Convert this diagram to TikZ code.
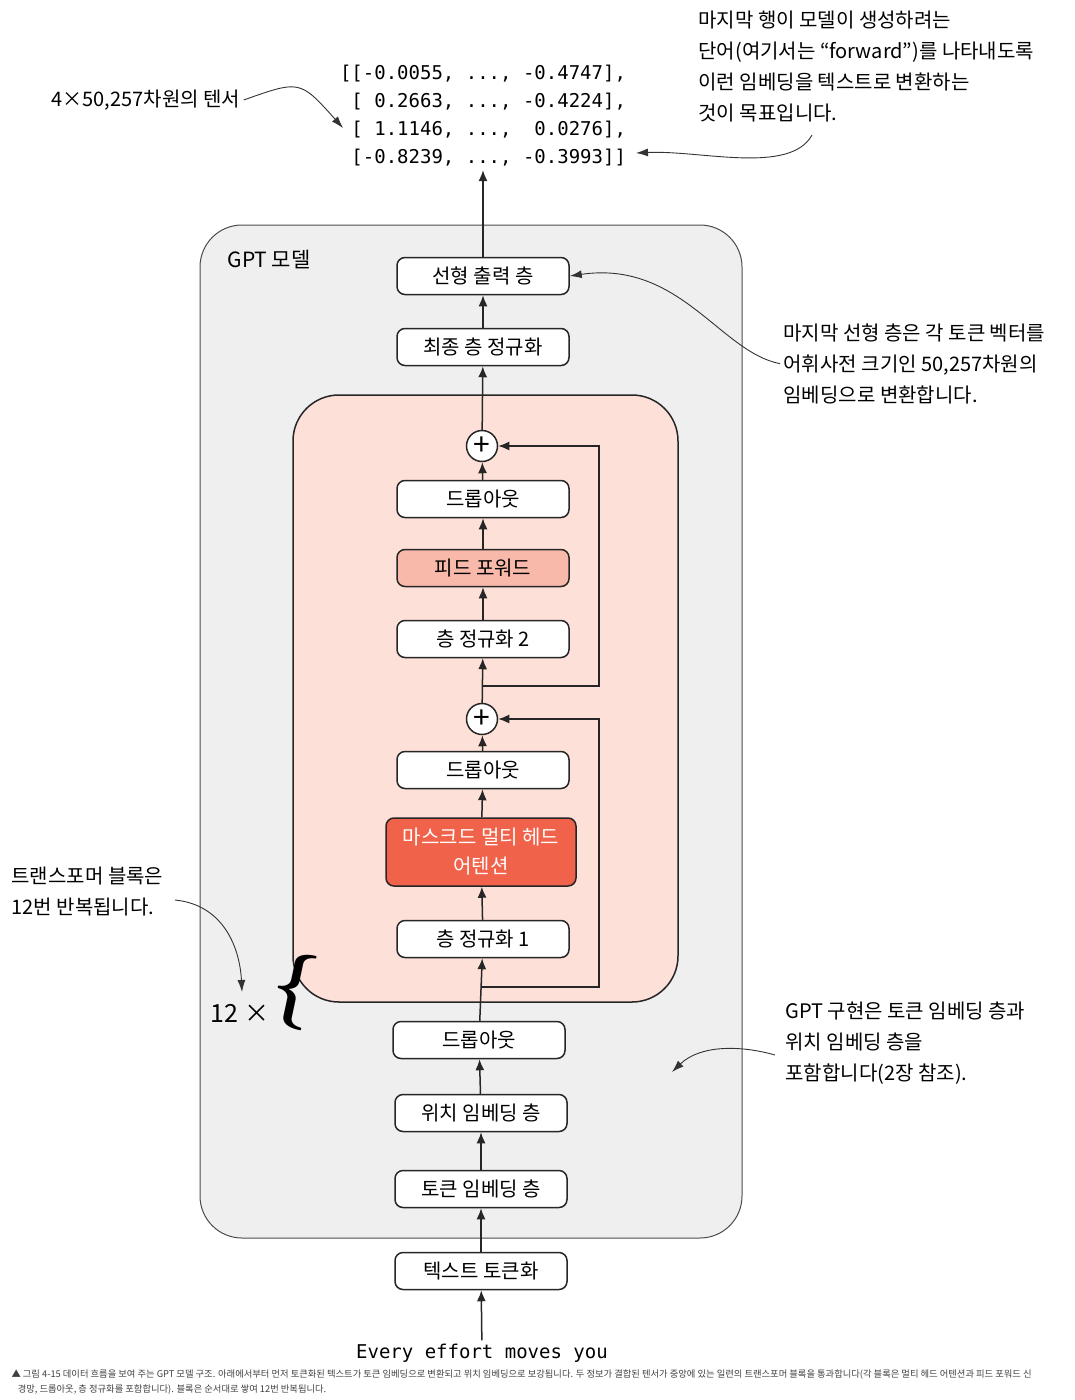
\documentclass[tikz,border=0pt]{standalone}
\usepackage{fontspec}
\setmainfont{Noto Sans CJK KR}
\newfontfamily\monofont{DejaVu Sans Mono}
\newfontfamily\lmfont{Latin Modern Roman}
\usetikzlibrary{arrows.meta,positioning}
\definecolor{outerfill}{HTML}{EFEFEF}
\definecolor{innerfill}{HTML}{FDE0D8}
\definecolor{fffill}{HTML}{F8B9AB}
\definecolor{attfill}{HTML}{F0624A}
\tikzset{
  layer/.style={draw=black!85, line width=1.5pt, rounded corners=8pt, fill=white,
    minimum width=172pt, minimum height=37pt, inner sep=2pt,
    font=\fontsize{20}{22}\selectfont},
  plus/.style={draw=black!85, line width=1.5pt, circle, fill=white, minimum size=31pt, inner sep=0pt},
  flow/.style={-{Latex[length=11pt,width=9pt]}, line width=1.5pt, black!85},
  note/.style={-{Latex[length=12pt,width=8pt]}, line width=0.9pt, black!80},
  annot/.style={align=left, anchor=west, font=\fontsize{20}{31}\selectfont},
}
\begin{document}
\begin{tikzpicture}[x=1pt,y=-1pt]
  \useasboundingbox (0,0) rectangle (1075,1400);
  % containers
  \draw[black!70, line width=1pt, fill=outerfill, rounded corners=42pt] (200,225) rectangle (742,1238);
  \draw[black!85, line width=1.5pt, fill=innerfill, rounded corners=46pt] (293,395) rectangle (678,1002);
  \node[anchor=west, font=\fontsize{21}{24}\selectfont] (gpt) at (224,260) {GPT 모델};

  % layers
  \node[layer]                 (out)  at (483,276)  {선형 출력 층};
  \node[layer]                 (fnorm) at (483,347) {최종 층 정규화};
  \node[plus]                  (p1)   at (482,446)  {\fontsize{30}{30}\selectfont +};
  \node[layer]                 (drop2) at (483,499) {드롭아웃};
  \node[layer, fill=fffill]    (ff)   at (483,568)  {피드 포워드};
  \node[layer]                 (norm2) at (483,639) {층 정규화 2};
  \node[plus]                  (p2)   at (482,719)  {\fontsize{30}{30}\selectfont +};
  \node[layer]                 (drop1) at (483,770) {드롭아웃};
  \node[layer, fill=attfill, text=white, minimum width=190pt, minimum height=68pt,
        align=center, font=\fontsize{20}{29}\selectfont]
                               (att)  at (481,852)  {마스크드 멀티 헤드\\어텐션};
  \node[layer]                 (norm1) at (483,939) {층 정규화 1};
  \node[layer]                 (drop0) at (479,1040) {드롭아웃};
  \node[layer]                 (pos)  at (481,1113) {위치 임베딩 층};
  \node[layer]                 (tok)  at (481,1189) {토큰 임베딩 층};
  \node[layer]                 (tkz)  at (481,1271) {텍스트 토큰화};
  \node[font=\monofont\fontsize{19}{22}\selectfont] (txt) at (482,1353) {Every effort moves you};

  \node[font=\monofont\fontsize{19}{28}\selectfont, align=left] (mat) at (483,116)
    {[[-0.0055, ..., -0.4747],\\
     \ [ 0.2663, ..., -0.4224],\\
     \ [ 1.1146, ...,\ \ 0.0276],\\
     \ [-0.8239, ..., -0.3993]]};

  % main flow
  \draw[flow] (txt) -- (tkz);
  \draw[flow] (tkz) -- (tok);
  \draw[flow] (tok) -- (pos);
  \draw[flow] (pos) -- (drop0);
  \draw[flow] (drop0) -- (norm1);
  \draw[flow] (norm1) -- (att);
  \draw[flow] (att) -- (drop1);
  \draw[flow] (drop1) -- (p2);
  \draw[flow] (p2) -- (norm2);
  \draw[flow] (norm2) -- (ff);
  \draw[flow] (ff) -- (drop2);
  \draw[flow] (drop2) -- (p1);
  \draw[flow] (p1) -- (fnorm);
  \draw[flow] (fnorm) -- (out);
  \draw[flow] (out) -- (mat);

  % shortcuts
  \coordinate (s1) at (482,987);
  \coordinate (s2) at (482,686);
  \draw[flow] (s1) -- (599,987) -- (599,719) -- (p2);
  \draw[flow] (s2) -- (599,686) -- (599,446) -- (p1);

  % repeat mark
  \node[font=\fontsize{25}{28}\selectfont] (rep) at (240,1013) {12 ×};
  \node[font=\lmfont\bfseries\fontsize{76}{76}\selectfont, rotate=-12] (brace) at (294,990) {\{};

  % annotations
  \node[annot] (n1) at (48,100) {4×50,257차원의 텐서};
  \draw[note] (n1.east) .. controls (300,80) .. (343,128);
  \node[annot, anchor=north west] (n2) at (695,7)
    {마지막 행이 모델이 생성하려는\\단어(여기서는 “forward”)를 나타내도록\\이런 임베딩을 텍스트로 변환하는\\것이 목표입니다.};
  \draw[note] (812,135) .. controls (790,175) and (700,150) .. (636,153);
  \node[annot, anchor=north west] (n3) at (780,320)
    {마지막 선형 층은 각 토큰 벡터를\\어휘사전 크기인 50,257차원의\\임베딩으로 변환합니다.};
  \draw[note] (n3.west) .. controls (720,352) and (680,260) .. (out.east);
  \node[annot, anchor=north west] (n4) at (8,863)
    {트랜스포머 블록은\\12번 반복됩니다.};
  \draw[note] (175,900) .. controls (225,905) and (240,950) .. (242,992);
  \node[annot, anchor=north west] (n5) at (782,998)
    {GPT 구현은 토큰 임베딩 층과\\위치 임베딩 층을\\포함합니다(2장 참조).};
  \draw[note] (775,1055) .. controls (740,1045) and (700,1045) .. (672,1072);

  % caption
  \node[anchor=north west, align=left, text=black!75, font=\fontsize{9.3}{15}\selectfont] (cap) at (8,1366)
    {▲ 그림 4-15 데이터 흐름을 보여 주는 GPT 모델 구조. 아래에서부터 먼저 토큰화된 텍스트가 토큰 임베딩으로 변환되고 위치 임베딩으로 보강됩니다. 두 정보가 결합된 텐서가 중앙에 있는 일련의 트랜스포머 블록을 통과합니다(각 블록은 멀티 헤드 어텐션과 피드 포워드 신\\\ \ \ 경망, 드롭아웃, 층 정규화를 포함합니다). 블록은 순서대로 쌓여 12번 반복됩니다.};
\end{tikzpicture}
\end{document}
